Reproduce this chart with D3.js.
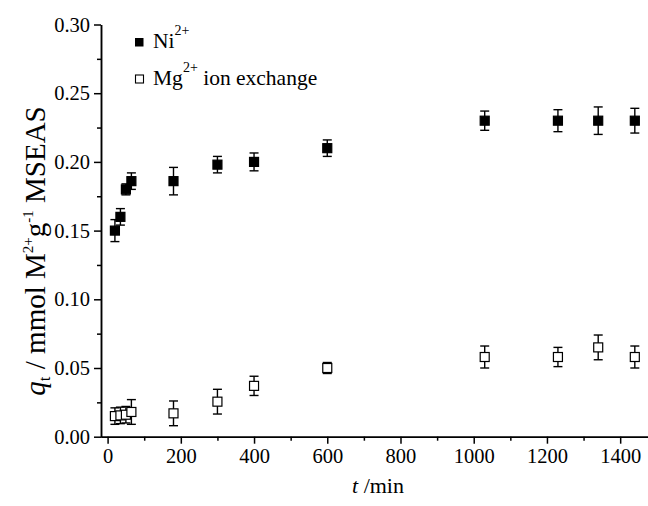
<!DOCTYPE html>
<html>
<head>
<meta charset="utf-8">
<script src="https://cdn.jsdelivr.net/npm/d3@7"></script>
<style>
  body { margin: 0; background: #fff; }
  text { font-family: "Liberation Serif", "Times New Roman", serif; fill: #000; }
</style>
</head>
<body>
<script>
// sampling times (min)
var times = [20, 35, 50, 65, 180, 300, 400, 600, 1030, 1230, 1340, 1440];

// Ni2+ uptake and its error
var niValues = [0.150, 0.160, 0.180, 0.186, 0.186, 0.198, 0.200, 0.210, 0.230, 0.230, 0.230, 0.230];
var niErrors = [0.008, 0.006, 0.004, 0.006, 0.010, 0.006, 0.0065, 0.006, 0.007, 0.008, 0.010, 0.009];

// Mg2+ released by ion exchange and its error
var mgValues = [0.015, 0.0155, 0.016, 0.018, 0.017, 0.0255, 0.037, 0.050, 0.058, 0.058, 0.065, 0.058];
var mgErrors = [0.006, 0.006, 0.006, 0.009, 0.009, 0.009, 0.007, 0.004, 0.008, 0.007, 0.009, 0.008];

// axis ticks
var xTicks = [0, 200, 400, 600, 800, 1000, 1200, 1400];
var xMinorTicks = [100, 300, 500, 700, 900, 1100, 1300];
var yTicks = [0, 0.05, 0.10, 0.15, 0.20, 0.25, 0.30];
var yMinorTicks = [0.025, 0.075, 0.125, 0.175, 0.225, 0.275];

var width = 648,
    height = 506;

var svg = d3.select("body")
    .append("svg")
    .attr("width", width)
    .attr("height", height);

var x = d3.scaleLinear().domain([-18, 1476]).range([101, 648]);
var y = d3.scaleLinear().domain([0, 0.30]).range([436.7, 24.5]);

// minor ticks first, then major axes with labels
svg.append("g")
    .attr("transform", "translate(0," + y(0) + ")")
    .call(d3.axisBottom(x).tickValues(xMinorTicks).tickSize(4).tickSizeOuter(0).tickFormat(""));
svg.append("g")
    .attr("transform", "translate(" + x.range()[0] + ",0)")
    .call(d3.axisLeft(y).tickValues(yMinorTicks).tickSize(4).tickSizeOuter(0).tickFormat(""));

svg.append("g")
    .attr("class", "axis")
    .attr("transform", "translate(0," + y(0) + ")")
    .call(d3.axisBottom(x).tickValues(xTicks).tickSize(7).tickSizeOuter(0).tickPadding(5)
        .tickFormat(d3.format("d")));
svg.append("g")
    .attr("class", "axis")
    .attr("transform", "translate(" + x.range()[0] + ",0)")
    .call(d3.axisLeft(y).tickValues(yTicks).tickSize(7).tickSizeOuter(0).tickPadding(4)
        .tickFormat(d3.format(".2f")));

svg.selectAll("g").attr("font-family", null).attr("font-size", null);
svg.selectAll(".domain, .tick line")
    .attr("stroke", "#000")
    .attr("stroke-width", 1.5);
svg.selectAll(".tick text")
    .style("font-size", "20.5px");

// error bars + markers
var boxSize = 9;
function drawSeries(values, errors, fill) {
    var g = svg.append("g");
    times.forEach(function(t, i) {
        var cx = x(t), lo = y(values[i] - errors[i]), hi = y(values[i] + errors[i]);
        g.append("line").attr("x1", cx).attr("x2", cx).attr("y1", lo).attr("y2", hi)
            .attr("stroke", "#000").attr("stroke-width", 1.4);
        [lo, hi].forEach(function(yy) {
            g.append("line").attr("x1", cx - boxSize / 2).attr("x2", cx + boxSize / 2)
                .attr("y1", yy).attr("y2", yy)
                .attr("stroke", "#000").attr("stroke-width", 1.4);
        });
    });
    g.selectAll("rect")
        .data(values)
        .enter()
        .append("rect")
        .attr("x", function(d, i) { return x(times[i]) - boxSize / 2; })
        .attr("y", function(d) { return y(d) - boxSize / 2; })
        .attr("width", boxSize)
        .attr("height", boxSize)
        .attr("fill", fill)
        .attr("stroke", "#000")
        .attr("stroke-width", 1.2);
}
drawSeries(mgValues, mgErrors, "#fff");
drawSeries(niValues, niErrors, "#000");

// legend
var legend = svg.append("g").style("font-size", "21.5px");
legend.append("rect").attr("x", 135).attr("y", 38).attr("width", 8.5).attr("height", 8.5).attr("fill", "#000");
legend.append("rect").attr("x", 135.5).attr("y", 75).attr("width", 8).attr("height", 8)
    .attr("fill", "#fff").attr("stroke", "#000").attr("stroke-width", 1.1);

var l1 = legend.append("text").attr("x", 153).attr("y", 48);
l1.append("tspan").text("Ni");
l1.append("tspan").attr("dy", -13).style("font-size", "14px").text("2+");

var l2 = legend.append("text").attr("x", 153).attr("y", 85);
l2.append("tspan").text("Mg");
l2.append("tspan").attr("dy", -13).style("font-size", "14px").text("2+");
l2.append("tspan").attr("dy", 13).text(" ion exchange");

// axis titles
var xt = svg.append("text")
    .attr("x", 378).attr("y", 493)
    .attr("text-anchor", "middle")
    .style("font-size", "22px");
xt.append("tspan").style("font-style", "italic").text("t");
xt.append("tspan").text(" /min");

var yt = svg.append("text")
    .attr("transform", "translate(45,251) rotate(-90)")
    .attr("text-anchor", "middle")
    .style("font-size", "29px");
yt.append("tspan").style("font-style", "italic").text("q");
yt.append("tspan").attr("dy", 5).style("font-size", "17px").text("t");
yt.append("tspan").attr("dy", -5).text(" / mmol M");
yt.append("tspan").attr("dy", -12).style("font-size", "15px").text("2+");
yt.append("tspan").attr("dy", 12).text("g");
yt.append("tspan").attr("dy", -12).style("font-size", "15px").text("-1");
yt.append("tspan").attr("dy", 12).text(" MSEAS");
</script>
</body>
</html>
